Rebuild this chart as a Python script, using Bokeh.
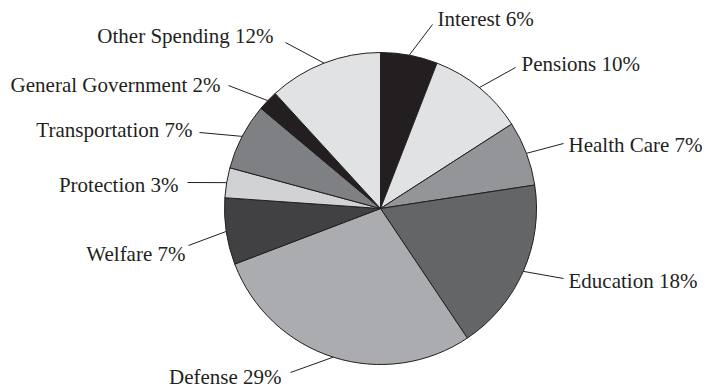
import math
from bokeh.plotting import figure
from bokeh.models import ColumnDataSource, Range1d
from bokeh.embed import file_html
from bokeh.resources import INLINE
from bokeh.core.properties import value

# ---- data ----
categories = ["Interest", "Pensions", "Health Care", "Education", "Defense",
              "Welfare", "Protection", "Transportation", "General Government",
              "Other Spending"]
shares = [5.9, 10.0, 6.7, 18.0, 28.6, 6.9, 3.1, 6.9, 2.1, 11.8]
label_pcts = [6, 10, 7, 18, 29, 7, 3, 7, 2, 12]
colors = ["#231f20", "#e1e2e4", "#939598", "#646567", "#abacaf",
          "#414042", "#d1d2d4", "#7f8083", "#231f20", "#e1e2e4"]

# ---- layout (pixel coordinates, y from top) ----
W, H = 706, 388
cx_px, cy_px, R = 380, 208, 156
# leader-line start (near label) and text anchor
line_start = [(432, 24), (515, 67), (563, 143), (563, 278), (290, 372),
              (188, 245), (187, 182), (199, 132), (228, 85), (285, 42)]
text_pos = [(437, 18), (521, 63), (568, 144), (568, 280), (281, 376),
            (185, 253), (178, 184), (192, 129), (220, 84), (273, 35)]
text_align = ["left", "left", "left", "left", "right",
              "right", "right", "right", "right", "right"]

def fy(y):
    return H - y

cx, cy = cx_px, fy(cy_px)
total = sum(shares)
starts, ends, mids = [], [], []
cum = 0.0
for s in shares:
    a0 = cum / total
    cum += s
    a1 = cum / total
    # clockwise from 12 o'clock
    starts.append(math.pi / 2 - 2 * math.pi * a1)
    ends.append(math.pi / 2 - 2 * math.pi * a0)
    mids.append(math.pi / 2 - 2 * math.pi * (a0 + a1) / 2)

wedge_src = ColumnDataSource(dict(start=starts, end=ends, color=colors))

x0 = [p[0] for p in line_start]
y0 = [fy(p[1]) for p in line_start]
x1 = [cx + R * math.cos(m) for m in mids]
y1 = [cy + R * math.sin(m) for m in mids]
seg_src = ColumnDataSource(dict(x0=x0, y0=y0, x1=x1, y1=y1))

labels = [f"{c} {p}%" for c, p in zip(categories, label_pcts)]
txt_src = ColumnDataSource(dict(
    x=[p[0] for p in text_pos], y=[fy(p[1]) for p in text_pos],
    text=labels, align=text_align))

p = figure(width=W, height=H, x_range=Range1d(0, W), y_range=Range1d(0, H),
           output_backend="svg", toolbar_location=None, min_border=0)
p.axis.visible = False
p.grid.visible = False
p.outline_line_color = None
p.background_fill_color = "white"
p.border_fill_color = "white"

p.wedge(x=cx, y=cy, radius=R, start_angle="start", end_angle="end",
        fill_color="color", line_color="#231f20", line_width=1,
        source=wedge_src)
p.segment(x0="x0", y0="y0", x1="x1", y1="y1", line_color="#231f20",
          line_width=1, source=seg_src)
p.text(x="x", y="y", text="text", text_align="align",
       text_baseline="middle", text_font=value("Liberation Serif"),
       text_font_size="21px", text_color="#231f20", source=txt_src)

open("out.html", "w").write(file_html(p, INLINE))
